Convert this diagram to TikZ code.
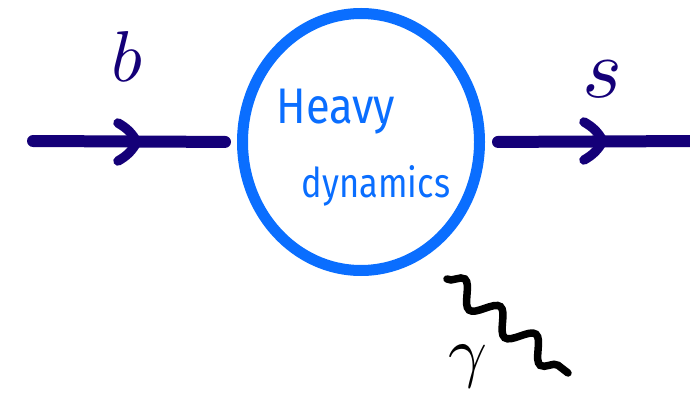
\documentclass[tikz,border=0pt]{standalone}
\usepackage{fontspec}
\usepackage{unicode-math}
\setsansfont{Fira Sans}
\usetikzlibrary{shapes.geometric,decorations.pathmorphing}
\definecolor{navyink}{RGB}{20,0,120}
\definecolor{blueink}{RGB}{10,110,255}
\begin{document}
\begin{tikzpicture}[x=1pt,y=-1pt,
  fermion/.style={draw=navyink, line width=12pt, line cap=round},
  chevron/.style={draw=navyink, line width=9.5pt, line cap=round, line join=round},
  blobstyle/.style={ellipse, draw=blueink, line width=11pt, minimum width=237pt, minimum height=257pt, inner sep=0pt},
  photon/.style={draw=black, line width=7.5pt, line cap=round, decorate, decoration={snake, amplitude=11pt, segment length=45pt}},
  blobtext/.style={text=blueink, inner sep=0pt, anchor=base},
  letterlbl/.style={inner sep=0pt}]
\useasboundingbox (0,0) rectangle (690,398);
\node[blobstyle] (blob) at (361,142) {};
\node[blobtext, font=\sffamily\fontsize{50}{50}\selectfont] (heavy) at (336,124) {\scalebox{0.87}[1]{Heavy}};
\node[blobtext, font=\sffamily\fontsize{41}{41}\selectfont] (dyn) at (376,197) {\scalebox{0.84}[1]{dynamics}};
\coordinate (lin) at (33,141);
\coordinate (rout) at (700,141);
\draw[fermion, shorten >=12pt] (lin) -- (blob.west);
\draw[fermion, shorten <=13pt] (blob.east) -- (rout);
\coordinate (la) at (137,142);
\coordinate (ra) at (603,141);
\draw[chevron] ([shift={(-19,-19)}]la) to[bend left=15] (la) to[bend left=15] ([shift={(-19,19)}]la);
\draw[chevron] ([shift={(-19,-19)}]ra) to[bend left=15] (ra) to[bend left=15] ([shift={(-19,19)}]ra);
\node[letterlbl, text=navyink, font=\fontsize{72}{72}\selectfont] (blbl) at (127,57) {$b$};
\node[letterlbl, text=navyink, font=\fontsize{85}{85}\selectfont] (slbl) at (602,79) {$s$};
\node[letterlbl, text=black, font=\fontsize{68}{68}\selectfont] (glbl) at (468,367) {$\gamma$};
\coordinate (ph1) at (447,279);
\coordinate (ph2) at (568,373);
\draw[photon] (ph1) -- (ph2);
\end{tikzpicture}
\end{document}
